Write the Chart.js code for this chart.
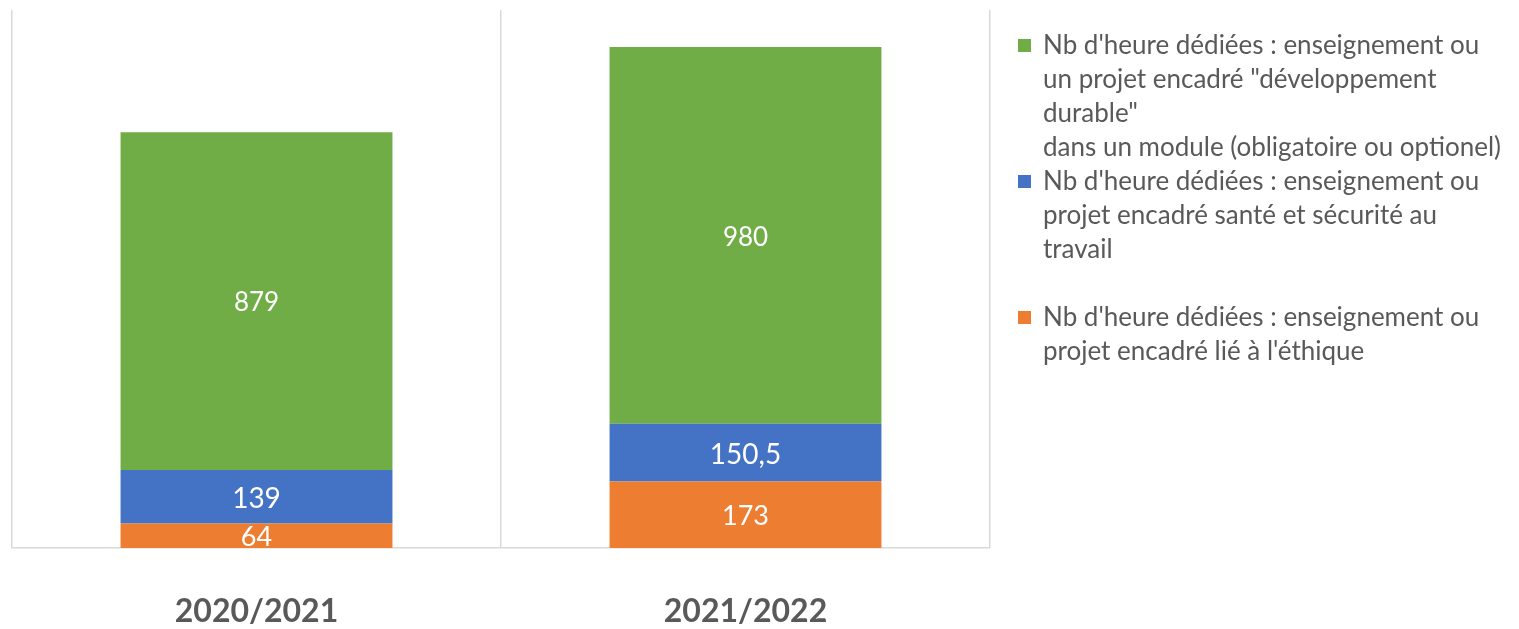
<!DOCTYPE html>
<html>
<head>
<meta charset="utf-8">
<script src="https://cdn.jsdelivr.net/npm/chart.js@4.4.1/dist/chart.umd.min.js"></script>
<style>
  html, body { margin: 0; padding: 0; background: #ffffff; }
</style>
</head>
<body>
<canvas id="hours-chart" width="1519" height="629"></canvas>
<script>
// hours per school year, stacked bottom to top
const years = ["2020/2021", "2021/2022"];
const ethicsHours = [64, 173];
const safetyHours = [139, 150.5];
const sustainHours = [879, 980];

// legend texts, one entry per line
const sustainLabel = [
  "Nb d'heure dédiées : enseignement ou",
  "un projet encadré \"développement",
  "durable\"",
  "dans un module (obligatoire ou optionel)",
];
const safetyLabel = [
  "Nb d'heure dédiées : enseignement ou",
  "projet encadré santé et sécurité au",
  "travail",
  "",
];
const ethicsLabel = [
  "Nb d'heure dédiées : enseignement ou",
  "projet encadré lié à l'éthique",
];

const GREEN = "#70ad47";
const BLUE = "#4472c4";
const ORANGE = "#ed7d31";
const TEXT_GREY = "#595959";
const GRID_GREY = "#d9d9d9";
const FONT = "Lato, 'Open Sans', sans-serif";

const fmt = (v) => v.toLocaleString("fr-FR");

// value printed in the middle of every stacked segment
const segmentLabels = {
  id: "segmentLabels",
  afterDatasetsDraw(chart) {
    const { ctx, chartArea } = chart;
    ctx.save();
    ctx.beginPath();
    ctx.rect(chartArea.left, chartArea.top, chartArea.width, chartArea.height);
    ctx.clip();
    ctx.fillStyle = "#ffffff";
    ctx.textAlign = "center";
    ctx.textBaseline = "middle";
    chart.data.datasets.forEach((ds, i) => {
      ctx.font = `${ds.valueSize}px ${FONT}`;
      chart.getDatasetMeta(i).data.forEach((bar, j) => {
        const { x, y, base } = bar.getProps(["x", "y", "base"], true);
        ctx.fillText(fmt(ds.data[j]), x, (y + base) / 2 + 2);
      });
    });
    ctx.restore();
  },
};

// legend on the right, top series first, multi-line entries
const sideLegend = {
  id: "sideLegend",
  afterDraw(chart) {
    const { ctx } = chart;
    const left = 1018;
    const textX = 1043;
    const lineH = 34;
    let y = 45.5;
    ctx.save();
    ctx.font = `26px ${FONT}`;
    ctx.textBaseline = "middle";
    ctx.textAlign = "left";
    [...chart.data.datasets].reverse().forEach((ds) => {
      ctx.fillStyle = ds.backgroundColor;
      ctx.fillRect(left, y - 6.5, 13, 13);
      ctx.fillStyle = TEXT_GREY;
      ds.legendLines.forEach((line) => {
        ctx.fillText(line, textX, y);
        y += lineH;
      });
    });
    ctx.restore();
  },
};

new Chart(document.getElementById("hours-chart"), {
  type: "bar",
  data: {
    labels: years,
    datasets: [
      { label: ethicsLabel.join(" "), legendLines: ethicsLabel, data: ethicsHours, backgroundColor: ORANGE, valueSize: 27 },
      { label: safetyLabel.join(" "), legendLines: safetyLabel, data: safetyHours, backgroundColor: BLUE, valueSize: 28 },
      { label: sustainLabel.join(" "), legendLines: sustainLabel, data: sustainHours, backgroundColor: GREEN, valueSize: 26 },
    ],
  },
  options: {
    responsive: false,
    animation: false,
    devicePixelRatio: 1,
    layout: { padding: { left: 12, top: 10, right: 529, bottom: 0 } },
    datasets: {
      bar: { categoryPercentage: 1, barPercentage: 0.556, borderWidth: 0 },
    },
    plugins: {
      legend: { display: false },
      tooltip: { enabled: false },
    },
    scales: {
      x: {
        stacked: true,
        grid: { offset: true, color: GRID_GREY, lineWidth: 1.5, drawTicks: false },
        border: { color: GRID_GREY, width: 1.5 },
        ticks: {
          color: TEXT_GREY,
          padding: 44,
          font: { family: FONT, size: 32, weight: "bold" },
        },
        afterFit(scale) {
          scale.height = 81;
        },
      },
      y: {
        stacked: true,
        display: false,
        min: 0,
        max: 1400,
      },
    },
  },
  plugins: [segmentLabels, sideLegend],
});
</script>
</body>
</html>
